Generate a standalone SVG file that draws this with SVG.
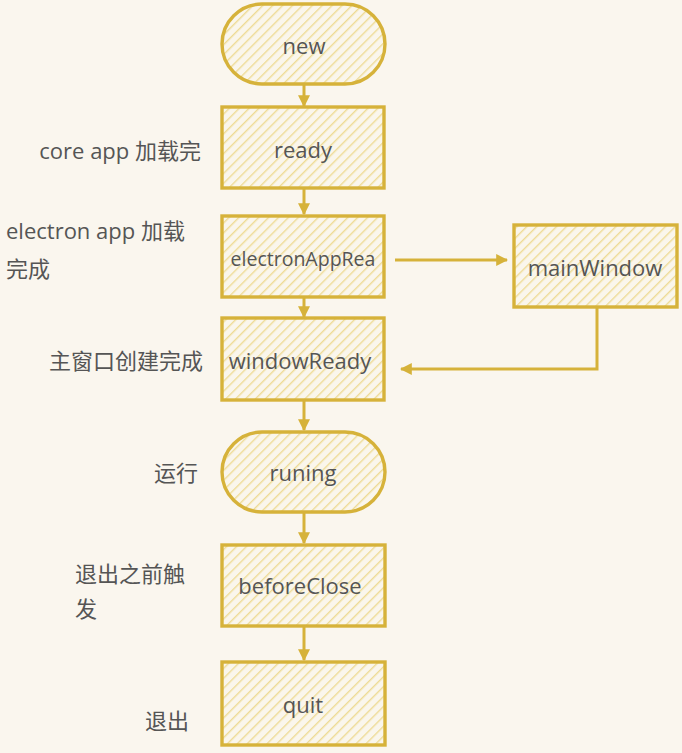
<svg xmlns="http://www.w3.org/2000/svg" width="682" height="753" viewBox="0 0 682 753">
<defs>
<pattern id="hatch" width="7" height="7" patternUnits="userSpaceOnUse" patternTransform="rotate(45)">
<rect width="7" height="7" fill="#faf6ec"/>
<line x1="0" y1="0" x2="0" y2="7" stroke="#eedb95" stroke-width="2.8"/>
</pattern>
<marker id="arr" viewBox="0 0 10 10" refX="9" refY="5" markerWidth="4" markerHeight="4" orient="auto" markerUnits="strokeWidth">
<path d="M0,0 L10,5 L0,10 z" fill="#d6b23a"/>
</marker>
</defs>
<style>
.shape{fill:url(#hatch);stroke:#d6b23a;stroke-width:3.4}
.lbl{font-family:"Open Sans","Noto Sans","Noto Sans CJK SC",sans-serif;font-size:22px;fill:#555;text-anchor:middle;dominant-baseline:central}
.side{font-family:"Open Sans","Noto Sans","Noto Sans CJK SC",sans-serif;font-size:22px;fill:#555;dominant-baseline:central}
.conn path{fill:none;stroke:#d6b23a;stroke-width:3;marker-end:url(#arr)}
</style>
<rect width="682" height="753" fill="#faf6ee"/>
<g class="conn" id="connectors">
<path d="M304,84 L304,106"/>
<path d="M304,188 L304,214"/>
<path d="M395,260 L507,260"/>
<path d="M597,307 L597,369 L401,369"/>
<path d="M304,297 L304,317"/>
<path d="M304,400 L304,430"/>
<path d="M304,512 L304,543"/>
<path d="M304,626 L304,660"/>
</g>
<g id="new"><rect class="shape" x="222" y="4" width="163" height="80" rx="40"/><text class="lbl" x="304" y="45">new</text></g>
<g id="ready"><rect class="shape" x="222" y="107" width="162" height="81"/><text class="lbl" x="303" y="149">ready</text></g>
<g id="electronAppReady"><rect class="shape" x="222" y="216" width="162" height="81"/><text class="lbl" x="303" y="258" style="font-size:19.5px">electronAppRea</text></g>
<g id="mainWindow"><rect class="shape" x="514" y="225" width="163" height="82"/><text class="lbl" x="595" y="267">mainWindow</text></g>
<g id="windowReady"><rect class="shape" x="222" y="318" width="162" height="82"/><text class="lbl" x="300" y="360">windowReady</text></g>
<g id="runing"><rect class="shape" x="222" y="432" width="163" height="80" rx="40"/><text class="lbl" x="303" y="472">runing</text></g>
<g id="beforeClose"><rect class="shape" x="222" y="545" width="163" height="81"/><text class="lbl" x="300" y="585">beforeClose</text></g>
<g id="quit"><rect class="shape" x="222" y="662" width="163" height="83"/><text class="lbl" x="303" y="704">quit</text></g>
<g id="labels">
<text class="side" x="201" y="150" text-anchor="end">core app 加载完</text>
<text class="side" x="6" y="230">electron app 加载</text>
<text class="side" x="6" y="268">完成</text>
<text class="side" x="203" y="360" text-anchor="end">主窗口创建完成</text>
<text class="side" x="198" y="472" text-anchor="end">运行</text>
<text class="side" x="75" y="573">退出之前触</text>
<text class="side" x="75" y="608">发</text>
<text class="side" x="145" y="720">退出</text>
</g>
</svg>
